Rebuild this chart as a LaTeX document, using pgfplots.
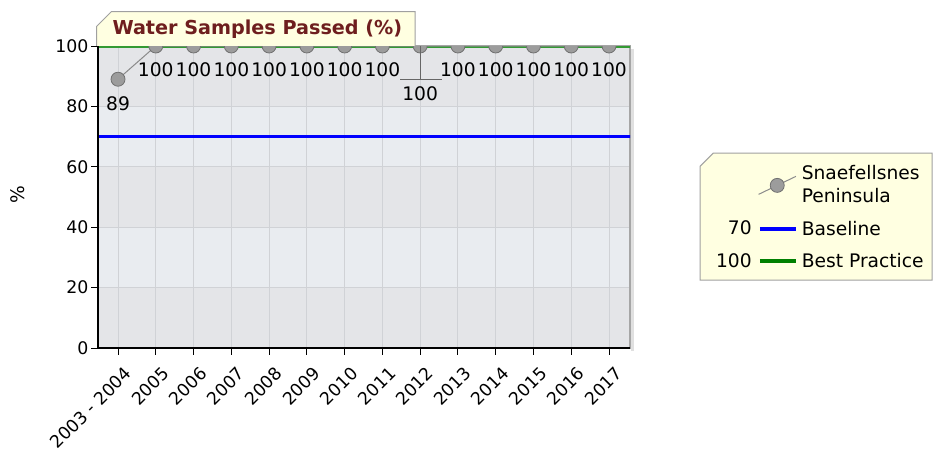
\documentclass[border=0pt]{standalone}
\usepackage{fontspec}
\setmainfont{DejaVu Sans}
\usepackage{pgfplots}
\pgfplotsset{compat=1.18}
\pgfplotsset{/pgf/number format/assume math mode=true}

\definecolor{bandA}{HTML}{E4E5E8}
\definecolor{bandB}{HTML}{E9ECF0}
\definecolor{gridc}{HTML}{D0D2D6}
\definecolor{tipfill}{HTML}{FFFFE1}
\definecolor{tipdraw}{HTML}{A0A0A0}
\definecolor{titlered}{HTML}{6E1E1E}
\definecolor{markfill}{HTML}{9C9C9C}
\definecolor{markdraw}{HTML}{707070}
\definecolor{serline}{HTML}{8A8A8A}
\definecolor{basecol}{HTML}{0000FF}
\definecolor{bestcol}{HTML}{008000}

% horizontal bands behind the grid (inner 25bp..75bp maps onto the axis box)
\pgfdeclareverticalshading{bands}{100bp}{%
  color(0bp)=(bandA); color(35bp)=(bandA);
  color(35.01bp)=(bandB); color(45bp)=(bandB);
  color(45.01bp)=(bandA); color(55bp)=(bandA);
  color(55.01bp)=(bandB); color(65bp)=(bandB);
  color(65.01bp)=(bandA); color(100bp)=(bandA)}

\newcommand\ticksz{\fontsize{13}{15}\selectfont}
\newcommand\labsz{\fontsize{14}{16}\selectfont}
\newcommand\legsz{\fontsize{14}{17.25}\selectfont}

\begin{document}
\begin{tikzpicture}
\path[use as bounding box] (0pt,0pt) rectangle (700.5pt,338.25pt);

% legend box (tooltip style, cut corner)
\draw[tipdraw, fill=tipfill, line width=0.75pt]
  (525pt,128.25pt) -- (525pt,213.5pt) -- (535pt,223.5pt) -- (699pt,223.5pt)
  -- (699pt,128.25pt) -- cycle;

\begin{axis}[
  name=ax,
  at={(73.5pt,77.25pt)}, anchor=south west,
  width=399pt, height=226.5pt, scale only axis,
  axis background/.style={shading=bands},
  xmin=-0.53, xmax=13.556, ymin=0, ymax=100,
  xtick={0,...,13},
  xticklabels={2003 - 2004,2005,2006,2007,2008,2009,2010,2011,2012,2013,2014,2015,2016,2017},
  ytick={0,20,...,100},
  xmajorgrids, ymajorgrids,
  grid style={gridc, line width=0.75pt},
  axis line style={draw=gray!70, line width=0.9pt},
  tick style={black, line width=0.75pt},
  tick align=outside, major tick length=5pt,
  xtick pos=left, ytick pos=left,
  tick label style={font=\ticksz},
  xticklabel style={xshift=4pt, yshift=-4pt, rotate=45, anchor=north east, inner sep=3pt},
  yticklabel style={inner sep=2pt},
  ylabel={\%},
  ylabel style={at={(axis description cs:-0.150,0.507)}, anchor=center, font=\legsz},
  clip marker paths=true,
  legend style={draw=none, fill=none, at={(1.2402,0.6043)}, anchor=north west,
    inner sep=0pt, column sep=3pt, row sep=12pt, font=\legsz,
    cells={anchor=west, align=left}, nodes={inner sep=0pt}},
]
% legend
\addlegendimage{legend image code/.code={
  \draw[serline, line width=0.75pt] (-1pt,-6.75pt) -- (27pt,6.75pt);
  \draw[markdraw, fill=markfill, line width=0.6pt] (13pt,0pt) circle (5.25pt);}}
\addlegendentry{Snaefellsnes\\Peninsula}
\addlegendimage{legend image code/.code={
  \draw[basecol, line width=2.8pt] (0pt,0pt) -- (27pt,0pt);
  \node[overlay, anchor=east, inner sep=0pt, font=\legsz] at (-6pt,0pt) {70};}}
\addlegendentry{Baseline}
\addlegendimage{legend image code/.code={
  \draw[bestcol, line width=2.8pt] (0pt,0pt) -- (27pt,0pt);
  \node[overlay, anchor=east, inner sep=0pt, font=\legsz] at (-6pt,0pt) {100};}}
\addlegendentry{Best Practice}

% baseline and best practice
\addplot[basecol, line width=2.25pt, forget plot] coordinates {(-0.6,70) (13.6,70)};
\addplot[bestcol!80!white, line width=2.25pt, forget plot] coordinates {(-0.6,100) (13.6,100)};

% series
\addplot[serline, line width=0.75pt, mark=*, mark size=5.25pt,
  mark options={fill=markfill, draw=markdraw, line width=0.6pt}, forget plot]
  coordinates {(0,89) (1,100) (2,100) (3,100) (4,100) (5,100) (6,100)
    (7,100) (8,100) (9,100) (10,100) (11,100) (12,100) (13,100)};

% value labels
\addplot[draw=none, mark=none, forget plot, nodes near coords,
  every node near coord/.append style={font=\labsz, anchor=center, yshift=-18pt, inner sep=0pt}]
  coordinates {(0,89) (1,100) (2,100) (3,100) (4,100) (5,100) (6,100)
    (7,100) (9,100) (10,100) (11,100) (12,100) (13,100)};
\addplot[draw=none, mark=none, forget plot, nodes near coords,
  every node near coord/.append style={font=\labsz, anchor=center, yshift=-35.6pt, inner sep=0pt}]
  coordinates {(8,100)};
\draw[gray!80!black, line width=0.6pt] (axis cs:8,100) -- (axis cs:8,89);
\draw[gray!80!black, line width=0.6pt] (axis cs:7.47,89) -- (axis cs:8.58,89);
\end{axis}

% frame: dark left/bottom, soft shadow right
\draw[black!12, line width=2pt] ([xshift=2pt,yshift=-2pt]ax.north east) -- ([xshift=2pt,yshift=-2pt]ax.south east);
\draw[black, line width=0.9pt] (ax.north west) -- (ax.south west) -- (ax.south east);

% title tooltip box
\draw[tipdraw, fill=tipfill, line width=0.75pt]
  (72.5pt,303.75pt) -- (72.5pt,318.5pt) -- (83.5pt,329.5pt) -- (311.25pt,329.5pt) -- (311.25pt,303.75pt);
\node[font=\fontsize{14.4}{17}\selectfont\bfseries, text=titlered, anchor=center]
  at (193pt,316.3pt) {Water Samples Passed (\%)};
\end{tikzpicture}
\end{document}
